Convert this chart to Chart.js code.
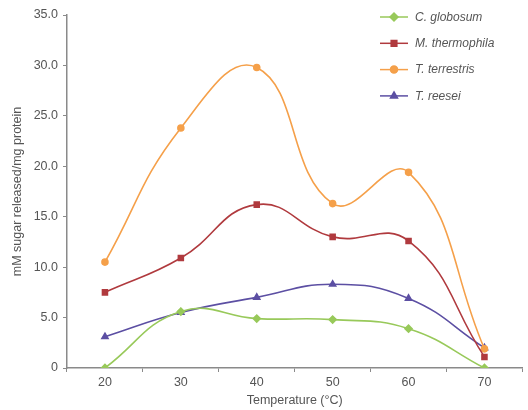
<!DOCTYPE html>
<html>
<head>
<meta charset="utf-8">
<script src="https://cdn.jsdelivr.net/npm/chart.js@4"></script>
<style>
  html, body { margin: 0; padding: 0; background: #fff; }
  #wrap { width: 528px; height: 410px; }
</style>
</head>
<body>
<div id="wrap"><canvas id="chart" width="528" height="410"></canvas></div>
<script>
const temperatures = ['20', '30', '40', '50', '60', '70'];
const globosum = [0, 5.6, 4.9, 4.8, 3.9, 0];
const thermophila = [7.5, 10.9, 16.2, 13.0, 12.6, 1.1];
const terrestris = [10.5, 23.8, 29.8, 16.3, 19.4, 1.9];
const reesei = [3.1, 5.5, 7.0, 8.3, 6.9, 2.0];

const seriesNames = ['C. globosum', 'M. thermophila', 'T. terrestris', 'T. reesei'];
const seriesColors = ['#98c95a', '#b03a3e', '#f5a04a', '#5c4fa3'];
const seriesShapes = ['rectRot', 'rect', 'circle', 'triangle'];
const seriesRadius = [3.5, 3.5, 3, 3.5];
const seriesData = [globosum, thermophila, terrestris, reesei];

const axisGray = '#8a8a8a';
const textGray = '#555';
const fontFamily = '"Liberation Sans", Arial, sans-serif';

// legend drawn by hand: line + marker + italic name
const lineLegend = {
    id: 'lineLegend',
    afterDraw(chart) {
        const ctx = chart.ctx;
        ctx.save();
        seriesNames.forEach((name, i) => {
            const y = 17 + i * 26.3;
            ctx.strokeStyle = seriesColors[i];
            ctx.lineWidth = 1.5;
            ctx.beginPath();
            ctx.moveTo(380, y);
            ctx.lineTo(408, y);
            ctx.stroke();
            Chart.helpers.drawPoint(ctx, {
                pointStyle: seriesShapes[i],
                radius: seriesRadius[i] + 0.5,
                rotation: 0,
                borderWidth: 1
            }, 394, y);
            ctx.fillStyle = seriesColors[i];
            ctx.fill();
            ctx.fillStyle = textGray;
            ctx.font = 'italic 12px ' + fontFamily;
            ctx.textBaseline = 'middle';
            ctx.fillText(name, 415, y + 0.5);
        });
        ctx.restore();
    }
};

new Chart(document.getElementById('chart'), {
    type: 'line',
    data: {
        labels: temperatures,
        datasets: seriesNames.map((name, i) => ({
            label: name,
            data: seriesData[i],
            borderColor: seriesColors[i],
            backgroundColor: seriesColors[i],
            pointStyle: seriesShapes[i],
            pointRadius: seriesRadius[i],
            borderWidth: 1.6,
            tension: 0.45,
            fill: false
        }))
    },
    options: {
        responsive: false,
        animation: false,
        layout: { padding: { top: 15, right: 3, left: 10, bottom: 0 } },
        plugins: {
            legend: { display: false },
            tooltip: { enabled: false }
        },
        scales: {
            x: {
                offset: true,
                grid: {
                    display: true,
                    offset: true,
                    drawOnChartArea: false,
                    tickLength: 4,
                    color: axisGray
                },
                border: { color: axisGray, width: 1.5 },
                ticks: {
                    color: textGray,
                    font: { size: 12.5, family: fontFamily },
                    padding: 3
                },
                title: {
                    display: true,
                    text: 'Temperature (°C)',
                    color: textGray,
                    font: { size: 12.5, family: fontFamily },
                    padding: { top: 0, bottom: 2 }
                },
                afterFit(scale) { scale.height = 42; }
            },
            y: {
                min: 0,
                max: 35,
                ticks: {
                    stepSize: 5,
                    color: textGray,
                    font: { size: 12.5, family: fontFamily },
                    padding: 5,
                    callback: v => v === 0 ? '0' : v.toFixed(1)
                },
                grid: {
                    display: true,
                    drawOnChartArea: false,
                    tickLength: 4,
                    color: axisGray
                },
                border: { color: axisGray, width: 1.5 },
                title: {
                    display: true,
                    text: 'mM sugar released/mg protein',
                    color: textGray,
                    font: { size: 12.5, family: fontFamily },
                    padding: { top: 0, bottom: 4 }
                },
                afterFit(scale) { scale.width = 57; }
            }
        }
    },
    plugins: [lineLegend]
});
</script>
</body>
</html>
